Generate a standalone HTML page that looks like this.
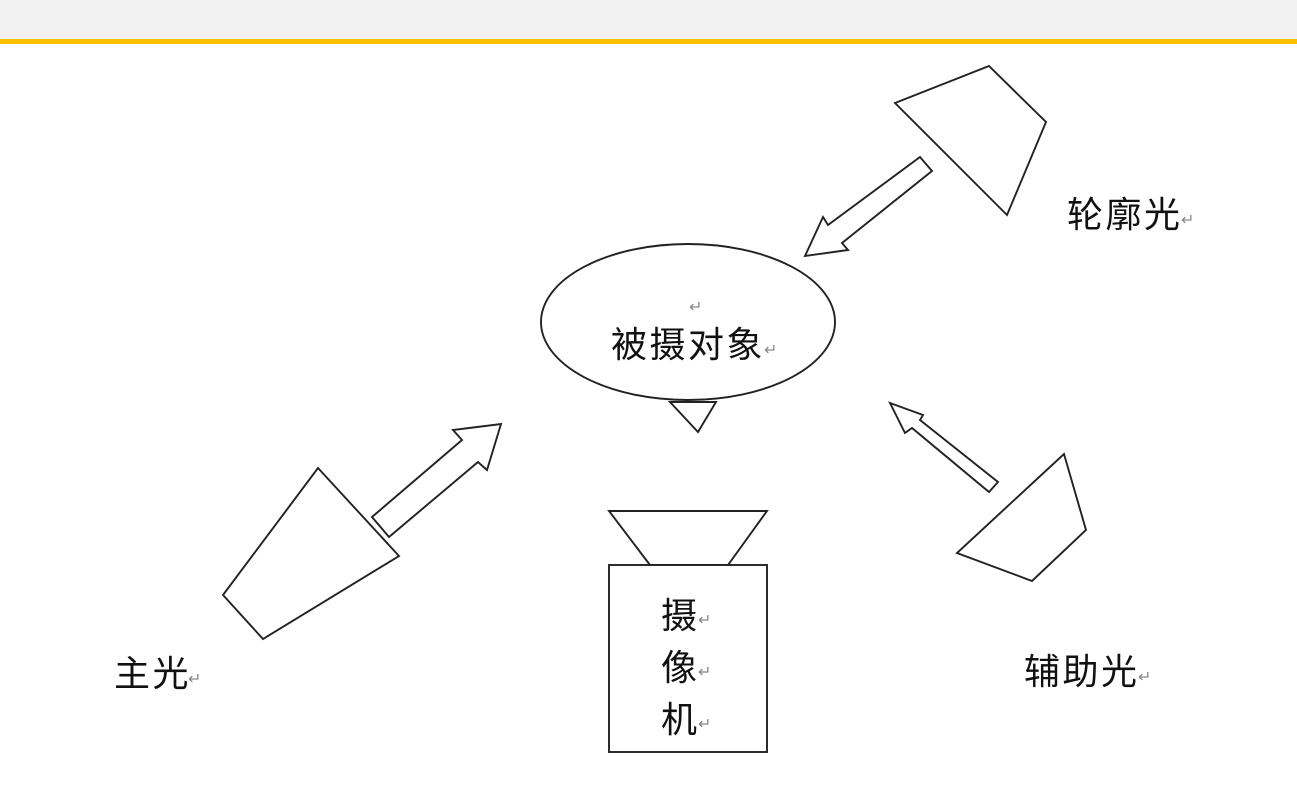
<!DOCTYPE html>
<html><head><meta charset="utf-8"><style>
html,body{margin:0;padding:0;background:#fff;}
svg{display:block}
text{font-family:"Liberation Sans","Noto Sans CJK SC","WenQuanYi Zen Hei",sans-serif;fill:#111;}
.t{font-size:36px;letter-spacing:2.5px;}
.r{font-size:16px;fill:#888;}
</style></head><body>
<svg width="1297" height="794" viewBox="0 0 1297 794" xmlns="http://www.w3.org/2000/svg">
<rect x="0" y="0" width="1297" height="39" fill="#f2f2f2"/>
<rect x="0" y="39" width="1297" height="5" fill="#ffc000"/>
<g fill="#fff" stroke="#222" stroke-width="1.9" stroke-linejoin="miter">
<polygon points="895,103 989,66 1046,122 1007,215"/>
<polygon points="920,157 828,225 823,217 805,256 848,250 842,243 932,171"/>
<polygon points="318,468 399,556 263,639 223,595"/>
<polygon points="372,517 462,440 453,430 501,424 487,470 478,462 389,537"/>
<polygon points="1064,454 1086,530 1032,581 957,553"/>
<polygon points="890,403 923,415 920,420 998,482 989,492 912,428 905,433"/>
<polygon points="670,402 716,402 698,432"/>
<ellipse cx="688" cy="322" rx="147" ry="78"/>
<polygon points="609,511 767,511 728,565 650,565"/>
<rect x="609" y="565" width="158" height="187"/>
</g>
<text x="611" y="357" class="t">被摄对象</text>
<text x="689" y="312" class="r">↵</text>
<text x="764" y="355" class="r">↵</text>
<text x="1067" y="227" class="t">轮廓光</text><text x="1181" y="225" class="r">↵</text>
<text x="114" y="686" class="t">主光</text><text x="188" y="684" class="r">↵</text>
<text x="1024" y="684" class="t">辅助光</text><text x="1138" y="682" class="r">↵</text>
<text x="661" y="628" font-size="36">摄</text><text x="698" y="625" class="r">↵</text>
<text x="661" y="680" font-size="36">像</text><text x="698" y="677" class="r">↵</text>
<text x="661" y="732" font-size="36">机</text><text x="698" y="729" class="r">↵</text>
</svg>
</body></html>
